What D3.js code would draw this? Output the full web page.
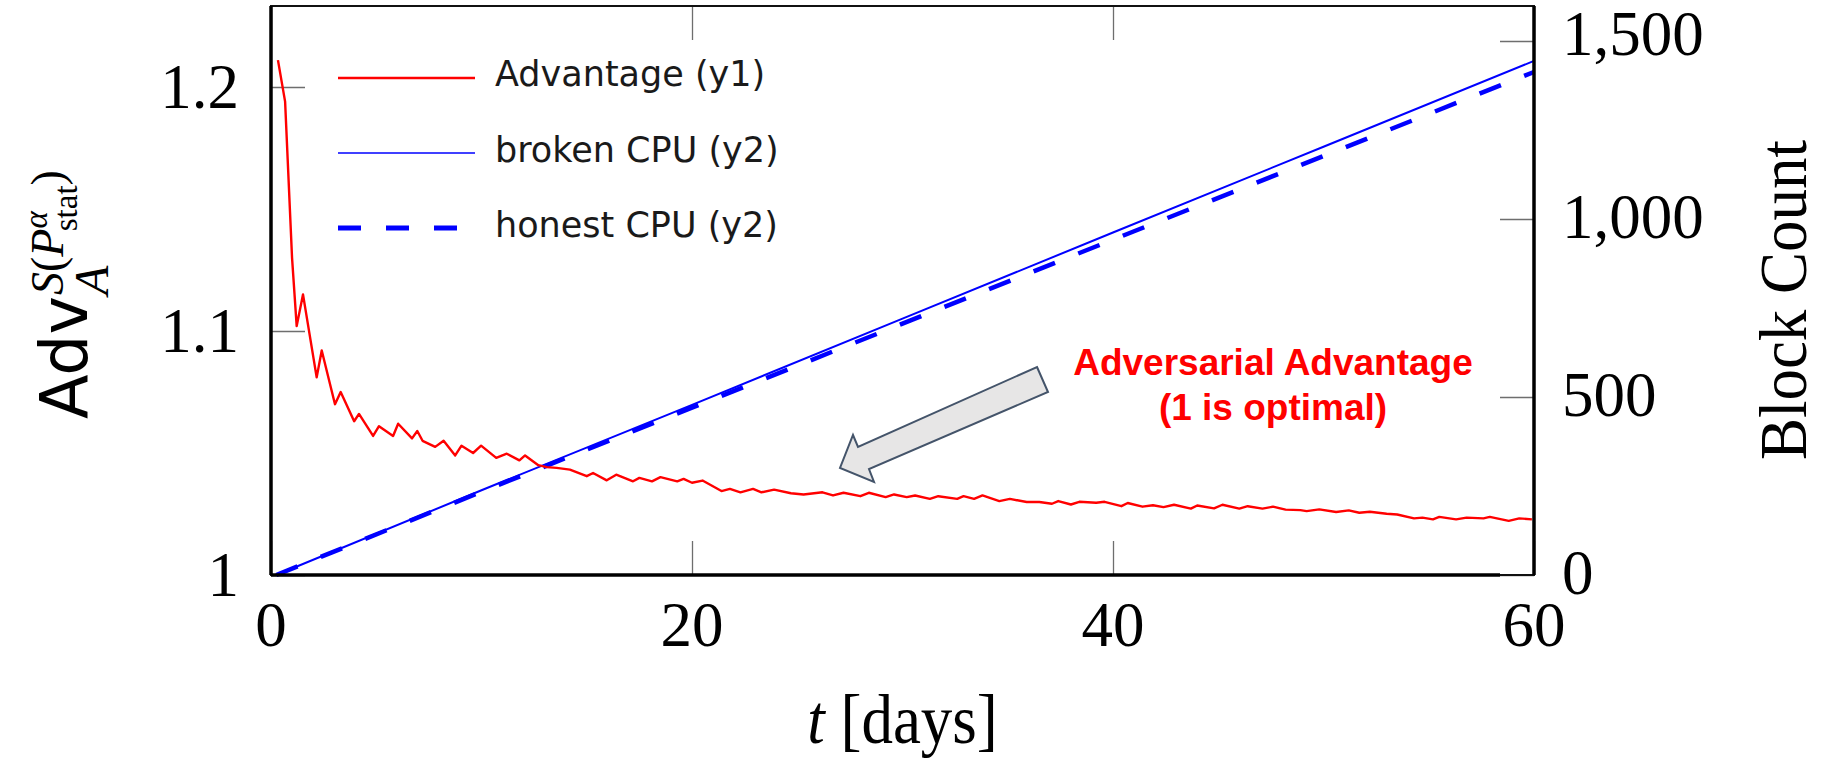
<!DOCTYPE html>
<html>
<head>
<meta charset="utf-8">
<script src="https://cdn.jsdelivr.net/npm/d3@7"></script>
<style>
  html, body { margin: 0; padding: 0; background: #fff; }
  #advChart { width: 1825px; height: 760px; }
  .tick-label { font-family: "Liberation Serif", "Times New Roman", serif; font-size: 63px; fill: #000; }
  .legend-text { font-family: "DejaVu Sans", sans-serif; font-size: 35px; fill: #1a1a1a; }
</style>
</head>
<body>
<div id="advChart"></div>
<script>
// data
const adv_days = [0.33, 0.67, 1.0, 1.22, 1.52, 2.17, 2.41, 3.04, 3.31, 3.95, 4.18, 4.85, 5.13, 5.8, 6.04, 6.7, 6.95, 7.2, 7.8, 8.2,
  8.75, 9.05, 9.6, 9.98, 10.7, 11.2, 11.8, 12.07, 12.7, 13.1, 13.57, 14.2, 15.0, 15.3, 15.95, 16.4, 17.2, 17.5, 18.1, 18.5,
  19.3, 19.6, 20.0, 20.5, 21.4, 21.8, 22.3, 22.9, 23.3, 23.9, 24.7, 25.3, 26.2, 26.7, 27.2, 28.0, 28.4, 29.2, 29.6, 30.2,
  30.6, 31.3, 31.7, 32.6, 32.9, 33.4, 33.8, 34.6, 35.1, 35.9, 36.5, 37.1, 37.4, 38.0, 38.4, 39.2, 39.6, 40.4, 40.7, 41.4,
  41.9, 42.4, 42.9, 43.7, 44.0, 44.8, 45.2, 46.0, 46.4, 47.1, 47.6, 48.2, 48.9, 49.2, 49.8, 50.6, 51.2, 51.7, 52.2, 53.0,
  53.5, 54.3, 54.7, 55.2, 55.5, 56.3, 56.8, 57.6, 57.9, 58.8, 59.3, 59.9];
const adv_values = [1.211, 1.194, 1.130, 1.102, 1.115, 1.081, 1.092, 1.070, 1.075, 1.063, 1.066, 1.057, 1.061, 1.057, 1.062, 1.056, 1.059, 1.055, 1.0525, 1.055,
  1.049, 1.053, 1.050, 1.053, 1.048, 1.0497, 1.047, 1.049, 1.045, 1.0442, 1.0439, 1.0432, 1.0405, 1.0418, 1.0388, 1.0411, 1.0384, 1.0398, 1.0384, 1.0401,
  1.0384, 1.0394, 1.0378, 1.0387, 1.0344, 1.0353, 1.0339, 1.0353, 1.0339, 1.035, 1.0335, 1.033, 1.0339, 1.0326, 1.0337, 1.0323, 1.0337, 1.0319, 1.033, 1.0319,
  1.0326, 1.0312, 1.0323, 1.0312, 1.0323, 1.0312, 1.0326, 1.0303, 1.0312, 1.0299, 1.0299, 1.0292, 1.0303, 1.0289, 1.03, 1.0296, 1.03, 1.0282, 1.0295, 1.028,
  1.0286, 1.0278, 1.0288, 1.0272, 1.0285, 1.0273, 1.0288, 1.0272, 1.0282, 1.0272, 1.028, 1.0268, 1.0266, 1.0262, 1.0269, 1.0258, 1.0265, 1.0255, 1.0259, 1.0251,
  1.0248, 1.0232, 1.0235, 1.0228, 1.0238, 1.0228, 1.0235, 1.0232, 1.0238, 1.0222, 1.0232, 1.0228];

const cpu_days = [0.25, 10, 20, 30, 40, 50, 60];
const broken_blocks = [0, 238, 478, 720, 962, 1203, 1444];
const honest_blocks = [0, 234, 470, 706, 942, 1177, 1413];

const x_ticks = [0, 20, 40, 60];
const y1_ticks = [1, 1.1, 1.2];
const y2_ticks = [0, 500, 1000, 1500];

const legend_labels = ['Advantage (y1)', 'broken CPU (y2)', 'honest CPU (y2)'];
const note_lines = ['Adversarial Advantage', '(1 is optimal)'];

// chart static params
const initial_width = 1825;
const initial_height = 760;
const tick_len = 34;
const margin = {top: 6, right: 291, bottom: 185, left: 271},
    width = initial_width - margin.left - margin.right,
    height = initial_height - margin.top - margin.bottom;

const svg = d3.select('#advChart')
  .append('svg')
    .attr('width', initial_width)
    .attr('height', initial_height)
  .append('g')
    .attr('transform', `translate(${margin.left},${margin.top})`);

// scales
const x = d3.scaleLinear().domain([0, 60]).range([0, width]);
const y1 = d3.scaleLinear().domain([1, 1.2]).range([height, 81]);
const y2 = d3.scaleLinear().domain([0, 1500]).range([height, 35]);

// ticks (drawn inward, like pgfplots)
const tickColor = '#6e6e6e';
svg.append('g')
  .call(d3.axisBottom(x).tickValues(x_ticks).tickSize(-tick_len).tickFormat(''))
  .attr('transform', `translate(0,${height})`)
  .call(g => g.select('.domain').remove())
  .call(g => g.selectAll('line').attr('stroke', tickColor).attr('stroke-width', 1.3));
svg.append('g')
  .call(d3.axisTop(x).tickValues(x_ticks).tickSize(-tick_len).tickFormat(''))
  .call(g => g.select('.domain').remove())
  .call(g => g.selectAll('line').attr('stroke', tickColor).attr('stroke-width', 1.3));
svg.append('g')
  .call(d3.axisLeft(y1).tickValues(y1_ticks).tickSize(-tick_len).tickFormat(''))
  .call(g => g.select('.domain').remove())
  .call(g => g.selectAll('line').attr('stroke', tickColor).attr('stroke-width', 1.3));
svg.append('g')
  .attr('transform', `translate(${width},0)`)
  .call(d3.axisRight(y2).tickValues(y2_ticks).tickSize(-tick_len).tickFormat(''))
  .call(g => g.select('.domain').remove())
  .call(g => g.selectAll('line').attr('stroke', tickColor).attr('stroke-width', 1.3));

// tick labels
svg.selectAll('.xlab').data(x_ticks).join('text')
  .attr('class', 'tick-label')
  .attr('text-anchor', 'middle')
  .attr('x', d => x(d))
  .attr('y', height + 71)
  .text(d => d);
svg.selectAll('.y1lab').data(y1_ticks).join('text')
  .attr('class', 'tick-label')
  .attr('text-anchor', 'end')
  .attr('x', -32)
  .attr('y', d => y1(d) + 21)
  .text(d => d3.format('')(d));
svg.selectAll('.y2lab').data(y2_ticks).join('text')
  .attr('class', 'tick-label')
  .attr('text-anchor', 'start')
  .attr('x', width + 28)
  .attr('y', d => y2(d) + (d === 1500 ? 14 : 19))
  .text(d => d3.format(',')(d));

// lines
const advLine = d3.line().x((d, i) => x(adv_days[i])).y(d => y1(d));
const cpuLine = d3.line().x((d, i) => x(cpu_days[i])).y(d => y2(d));

svg.append('path')
  .datum(honest_blocks)
  .attr('fill', 'none')
  .attr('stroke', '#0000ff')
  .attr('stroke-width', 4.5)
  .attr('stroke-dasharray', '23,25')
  .attr('d', cpuLine);
svg.append('path')
  .datum(broken_blocks)
  .attr('fill', 'none')
  .attr('stroke', '#0000ff')
  .attr('stroke-width', 2)
  .attr('d', cpuLine);
svg.append('path')
  .datum(adv_values)
  .attr('fill', 'none')
  .attr('stroke', '#ff0000')
  .attr('stroke-width', 2.4)
  .attr('stroke-linejoin', 'round')
  .attr('d', advLine);

// frame
svg.append('rect')
  .attr('x', 0).attr('y', 0)
  .attr('width', width).attr('height', height)
  .attr('fill', 'none')
  .attr('stroke', '#111')
  .attr('stroke-width', 2);
svg.append('line').attr('x1', 0).attr('x2', 0).attr('y1', 0).attr('y2', height)
  .attr('stroke', '#000').attr('stroke-width', 3.5);
svg.append('line').attr('x1', width).attr('x2', width).attr('y1', 0).attr('y2', height)
  .attr('stroke', '#000').attr('stroke-width', 3.5);
svg.append('line').attr('x1', 0).attr('x2', width - tick_len).attr('y1', height).attr('y2', height)
  .attr('stroke', '#000').attr('stroke-width', 3.5);

// legend
const legend = svg.append('g').attr('transform', 'translate(67,0)');
const legend_rows = [72, 147, 222];
const legend_styles = [
  {color: '#ff0000', w: 2.5, dash: null, len: 137},
  {color: '#0000ff', w: 1.5, dash: null, len: 137},
  {color: '#0000ff', w: 5, dash: '23,25', len: 119}
];
legend_labels.forEach((lab, i) => {
  legend.append('line')
    .attr('x1', 0).attr('x2', legend_styles[i].len)
    .attr('y1', legend_rows[i]).attr('y2', legend_rows[i])
    .attr('stroke', legend_styles[i].color)
    .attr('stroke-width', legend_styles[i].w)
    .attr('stroke-dasharray', legend_styles[i].dash);
  legend.append('text')
    .attr('class', 'legend-text')
    .attr('x', 157)
    .attr('y', legend_rows[i] + 8 + (i === 0 ? 0 : 1))
    .text(lab);
});

// annotation arrow + note
const arrow_pts = [[766, 361], [777, 386], [598, 463], [603, 476], [569, 462], [582, 429], [587, 441]];
svg.append('polygon')
  .attr('points', arrow_pts.map(p => p.join(',')).join(' '))
  .attr('fill', '#e7e6e6')
  .attr('stroke', '#44546a')
  .attr('stroke-width', 2)
  .attr('stroke-linejoin', 'miter');
note_lines.forEach((t, i) => {
  svg.append('text')
    .attr('x', 1002)
    .attr('y', 369 + i * 45)
    .attr('text-anchor', 'middle')
    .attr('font-family', '"Liberation Sans", Arial, sans-serif')
    .attr('font-weight', 'bold')
    .attr('font-size', 37)
    .attr('fill', '#ff0000')
    .text(t);
});

// add label bottom
const xlab = svg.append('text')
  .attr('class', 'tick-label')
  .attr('text-anchor', 'middle')
  .attr('transform', `translate(${width / 2},${height + 168}) scale(1,1.12)`);
xlab.append('tspan').attr('font-style', 'italic').text('t');
xlab.append('tspan').text(' [days]');

// add label right
svg.append('text')
  .attr('class', 'tick-label')
  .attr('font-size', 59)
  .attr('text-anchor', 'middle')
  .attr('transform', `translate(${width + 272},${300 - margin.top}) rotate(-90) scale(1,1.08)`)
  .text('Block Count');

// add label left (Adv with sub/superscripts)
const ylab = svg.append('g')
  .attr('transform', `translate(${87 - margin.left},${419 - margin.top}) rotate(-90)`);
ylab.append('text')
  .attr('font-family', '"DejaVu Sans", sans-serif')
  .attr('font-size', 65)
  .attr('x', 0).attr('y', 0)
  .text('Adv');
ylab.append('text')
  .attr('font-family', '"Liberation Serif", serif')
  .attr('font-style', 'italic')
  .attr('font-size', 48)
  .attr('x', 124).attr('y', 21)
  .text('A');
const sup = ylab.append('text')
  .attr('font-family', '"Liberation Serif", serif')
  .attr('font-size', 46)
  .attr('x', 124).attr('y', -24);
sup.append('tspan').attr('font-style', 'italic').text('S');
sup.append('tspan').text('(');
sup.append('tspan').attr('font-style', 'italic').text('P');
sup.append('tspan').attr('font-style', 'italic').attr('font-size', 33).attr('dy', -16).text('α');
sup.append('tspan').attr('font-size', 33).attr('dx', -20).attr('dy', 30).text('stat');
sup.append('tspan').attr('dy', -14).text(')');
</script>
</body>
</html>
